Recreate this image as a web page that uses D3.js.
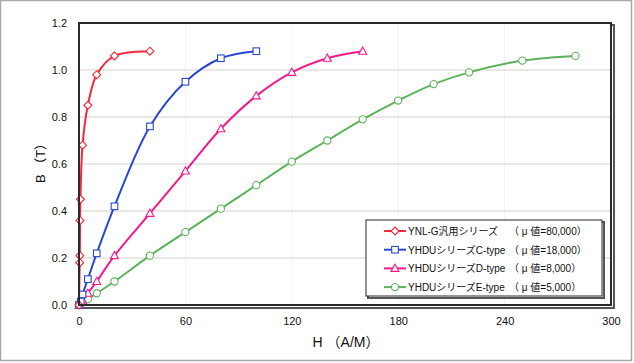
<!DOCTYPE html>
<html>
<head>
<meta charset="utf-8">
<script src="https://cdn.jsdelivr.net/npm/d3@7"></script>
<style>
  body { margin: 0; background: #fff; }
  text { font-family: Arial, "Liberation Sans", "Noto Sans CJK JP", sans-serif; }
</style>
</head>
<body>
<div id="chart"></div>
<script>
// データ
const xTicks = [0, 60, 120, 180, 240, 300];
const yTicks = [0, 0.2, 0.4, 0.6, 0.8, 1.0, 1.2];

const redH = [0, 0.4, 0.5, 0.6, 0.8, 2, 5, 10, 20, 40];
const redB = [0, 0.18, 0.21, 0.36, 0.45, 0.68, 0.85, 0.98, 1.06, 1.08];

const blueH = [0, 1, 2, 5, 10, 20, 40, 60, 80, 100];
const blueB = [0, 0.015, 0.045, 0.11, 0.22, 0.42, 0.76, 0.95, 1.05, 1.08];

const pinkH = [0, 2, 5, 10, 20, 40, 60, 80, 100, 120, 140, 160];
const pinkB = [0, 0.02, 0.05, 0.10, 0.21, 0.39, 0.57, 0.75, 0.89, 0.99, 1.05, 1.08];

const greenH = [0, 2, 5, 10, 20, 40, 60, 80, 100, 120, 140, 160, 180, 200, 220, 250, 280];
const greenB = [0, 0.01, 0.025, 0.05, 0.10, 0.21, 0.31, 0.41, 0.51, 0.61, 0.70, 0.79, 0.87, 0.94, 0.99, 1.04, 1.06];

const names = ['YNL-G汎用シリーズ', 'YHDUシリーズC-type', 'YHDUシリーズD-type', 'YHDUシリーズE-type'];
const muLabels = ['（ μ 値=80,000）', '（ μ 値=18,000）', '（ μ 値=8,000）', '（ μ 値=5,000）'];

const series = [
  { name: names[0], mu: muLabels[0], h: redH, b: redB, color: '#f5283c', shape: 'diamond' },
  { name: names[1], mu: muLabels[1], h: blueH, b: blueB, color: '#2848d0', shape: 'square' },
  { name: names[2], mu: muLabels[2], h: pinkH, b: pinkB, color: '#f21a8c', shape: 'triangle' },
  { name: names[3], mu: muLabels[3], h: greenH, b: greenB, color: '#5cb35c', shape: 'circle' }
];

const W = 634, H = 363;
const margin = { top: 23, right: 22, bottom: 58, left: 79 };
const width = 611 - margin.left;
const height = 305 - margin.top;

const svg = d3.select('#chart').append('svg')
  .attr('width', W).attr('height', H);

// 外枠
svg.append('rect')
  .attr('x', 0.5).attr('y', 0.5).attr('width', 631).attr('height', 360)
  .attr('fill', '#fff').attr('stroke', '#a8a8a8').attr('stroke-width', 1.5);

const x = d3.scaleLinear().domain([0, 300]).range([0, width]);
const y = d3.scaleLinear().domain([0, 1.2]).range([height, 0]);

const g = svg.append('g').attr('transform', `translate(${margin.left},${margin.top})`);

// 影
g.append('rect')
  .attr('x', 2).attr('y', 2).attr('width', width + 1).attr('height', height + 1)
  .attr('fill', 'none').attr('stroke', '#555').attr('stroke-width', 2);

g.append('rect')
  .attr('width', width).attr('height', height).attr('fill', '#fff');

// グリッド
g.selectAll('.vgrid').data(xTicks.slice(1, -1)).enter().append('line')
  .attr('x1', d => x(d)).attr('x2', d => x(d)).attr('y1', 0).attr('y2', height)
  .attr('stroke', '#f2f2f2').attr('stroke-width', 1);

g.selectAll('.hgrid').data(yTicks.slice(1, -1)).enter().append('line')
  .attr('x1', 0).attr('x2', width).attr('y1', d => y(d)).attr('y2', d => y(d))
  .attr('stroke', '#d6d2c8').attr('stroke-width', 1.2);

// 軸ラベル
const xAxis = g.append('g').attr('transform', `translate(0,${height})`)
  .call(d3.axisBottom(x).tickValues(xTicks).tickSize(0).tickPadding(12).tickFormat(d3.format('d')));
xAxis.select('.domain').remove();
xAxis.selectAll('text').attr('font-size', 11).attr('fill', '#111');

const yAxis = g.append('g')
  .call(d3.axisLeft(y).tickValues(yTicks).tickSize(0).tickPadding(12).tickFormat(d => d === 0 ? '0.0' : d3.format('.1f')(d)));
yAxis.select('.domain').remove();
yAxis.selectAll('text').attr('font-size', 11).attr('fill', '#111');

// 曲線
const line = d3.line()
  .x(d => x(d[0])).y(d => y(d[1]))
  .curve(d3.curveCatmullRom.alpha(0.5));

function marker(sel, shape, color) {
  if (shape === 'circle') {
    sel.append('circle').attr('r', 3.6);
  } else if (shape === 'square') {
    sel.append('rect').attr('x', -3.3).attr('y', -3.3).attr('width', 6.6).attr('height', 6.6);
  } else if (shape === 'diamond') {
    sel.append('path').attr('d', 'M0,-4L4,0L0,4L-4,0Z');
  } else {
    sel.append('path').attr('d', 'M0,-4.2L4,3L-4,3Z');
  }
  sel.selectAll('*').attr('fill', '#fff').attr('stroke', color).attr('stroke-width', 1.1);
}

series.slice().reverse().forEach(s => {
  const pts = s.h.map((h, i) => [h, s.b[i]]);
  g.append('path').datum(pts)
    .attr('fill', 'none').attr('stroke', s.color).attr('stroke-width', 2)
    .attr('d', line);
  g.selectAll(null).data(pts).enter().append('g')
    .attr('transform', d => `translate(${x(d[0])},${y(d[1])})`)
    .each(function () { marker(d3.select(this), s.shape, s.color); });
});

// 枠
g.append('rect')
  .attr('width', width).attr('height', height)
  .attr('fill', 'none').attr('stroke', '#2a2a2a').attr('stroke-width', 2);

// 軸タイトル
svg.append('text')
  .attr('x', 346).attr('y', 347).attr('text-anchor', 'middle')
  .attr('font-size', 14).attr('fill', '#111')
  .text('H （A/M）');

svg.append('text')
  .attr('transform', 'translate(45,160) rotate(-90)').attr('text-anchor', 'middle')
  .attr('font-size', 13).attr('fill', '#111')
  .text('B （T）');

// 凡例
const lg = svg.append('g').attr('transform', 'translate(366,220)');
lg.append('rect').attr('x', 2).attr('y', 2).attr('width', 236).attr('height', 76)
  .attr('fill', 'none').attr('stroke', '#555').attr('stroke-width', 2);
lg.append('rect').attr('width', 236).attr('height', 76)
  .attr('fill', '#fff').attr('stroke', '#2a2a2a').attr('stroke-width', 1);

series.forEach((s, i) => {
  const row = lg.append('g').attr('transform', `translate(0,${11 + i * 18.7})`);
  row.append('line').attr('x1', 18).attr('x2', 40).attr('y1', 0).attr('y2', 0)
    .attr('stroke', s.color).attr('stroke-width', 2);
  const m = row.append('g').attr('transform', 'translate(29,0)');
  marker(m, s.shape, s.color);
  row.append('text').attr('x', 42).attr('y', 4)
    .attr('font-size', 10).attr('fill', '#111').text(s.name);
  row.append('text').attr('x', 143).attr('y', 4)
    .attr('font-size', 10).attr('fill', '#111').text(s.mu);
});
</script>
</body>
</html>
